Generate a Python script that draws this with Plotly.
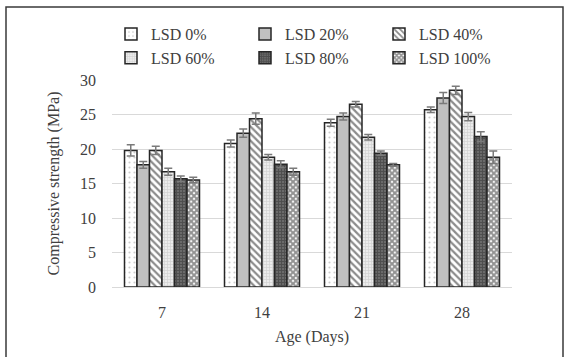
import plotly.graph_objects as go

# Curing age categories
ages = ["7", "14", "21", "28"]

# Mean compressive strength (MPa) for each LSD replacement level
lsd_0 = [19.8, 20.8, 23.8, 25.7]
lsd_20 = [17.7, 22.3, 24.7, 27.4]
lsd_40 = [19.8, 24.4, 26.5, 28.5]
lsd_60 = [16.7, 18.8, 21.7, 24.7]
lsd_80 = [15.7, 17.8, 19.4, 21.8]
lsd_100 = [15.5, 16.7, 17.7, 18.8]

# Standard deviations (MPa)
err_0 = [0.8, 0.5, 0.5, 0.4]
err_20 = [0.5, 0.6, 0.5, 0.8]
err_40 = [0.6, 0.8, 0.4, 0.6]
err_60 = [0.5, 0.4, 0.4, 0.6]
err_80 = [0.4, 0.5, 0.3, 0.7]
err_100 = [0.4, 0.5, 0.2, 0.9]

names = ["LSD 0%", "LSD 20%", "LSD 40%", "LSD 60%", "LSD 80%", "LSD 100%"]
values = [lsd_0, lsd_20, lsd_40, lsd_60, lsd_80, lsd_100]
errors = [err_0, err_20, err_40, err_60, err_80, err_100]

# Fill pattern per series
patterns = [
    dict(shape=".", fgcolor="#9a9a9a", bgcolor="#ffffff", size=5, solidity=0.15),
    dict(shape="", bgcolor="#c0c0c0"),
    dict(shape="\\", fgcolor="#1a1a1a", bgcolor="#ffffff", size=5, solidity=0.45),
    dict(shape="+", fgcolor="#b8b8b8", bgcolor="#ececec", size=3, solidity=0.4),
    dict(shape="+", fgcolor="#2e2e2e", bgcolor="#6a6a6a", size=3, solidity=0.5),
    dict(shape="x", fgcolor="#262626", bgcolor="#ffffff", size=4, solidity=0.75),
]

FONT = "Liberation Serif, Times New Roman, serif"
TEXT = "#404040"

fig = go.Figure()
for name, vals, errs, pat in zip(names, values, errors, patterns):
    fig.add_trace(go.Bar(
        name=name,
        x=ages,
        y=vals,
        marker=dict(
            color=pat.get("bgcolor", "#ffffff"),
            line=dict(color="#262626", width=1.5),
            pattern=pat,
        ),
        error_y=dict(type="data", array=errs, visible=True,
                     color="#7a7a7a", thickness=1.5, width=4),
    ))

# Outer frame: top, left and right edges of the chart box
L, R, T, B = 112, 54, 80, 70
W, H = 566, 357
pw, ph = W - L - R, H - T - B

def px_x(px):
    return (px - L) / pw

def px_y(py):
    return (H - B - py) / ph

x_left, x_right = px_x(6), px_x(563)
y_top, y_bot = px_y(7), px_y(H)
fig.add_shape(type="path", xref="paper", yref="paper",
              path=f"M {x_left} {y_bot} L {x_left} {y_top} L {x_right} {y_top} L {x_right} {y_bot}",
              line=dict(color="#3a3a3a", width=1.5), layer="below")

fig.update_layout(
    width=W, height=H,
    margin=dict(l=L, r=R, t=T, b=B),
    paper_bgcolor="#ffffff",
    plot_bgcolor="#ffffff",
    barmode="group",
    bargap=0.25,
    bargroupgap=0,
    font=dict(family=FONT, size=16, color=TEXT),
    showlegend=True,
    legend=dict(
        orientation="h",
        x=px_x(111), xanchor="left",
        y=px_y(17), yanchor="top",
        entrywidth=89, entrywidthmode="pixels",
        font=dict(family=FONT, size=16, color=TEXT),
        bgcolor="rgba(0,0,0,0)",
        traceorder="normal",
        itemwidth=30,
    ),
    xaxis=dict(
        title=dict(text="Age (Days)", font=dict(family=FONT, size=16, color=TEXT), standoff=10),
        showline=True, linecolor="#d9d9d9", linewidth=1,
        ticks="", ticklabelstandoff=11,
        tickfont=dict(family=FONT, size=16, color=TEXT),
        showgrid=False,
    ),
    yaxis=dict(
        title=dict(text="Compressive strength (MPa)", font=dict(family=FONT, size=16, color=TEXT), standoff=16),
        range=[0, 30], dtick=5,
        showgrid=True, gridcolor="#d9d9d9", gridwidth=1,
        zeroline=False, showline=False, ticks="",
        ticklabelstandoff=15,
        tickfont=dict(family=FONT, size=16, color=TEXT),
    ),
)

fig.write_html("out.html")
